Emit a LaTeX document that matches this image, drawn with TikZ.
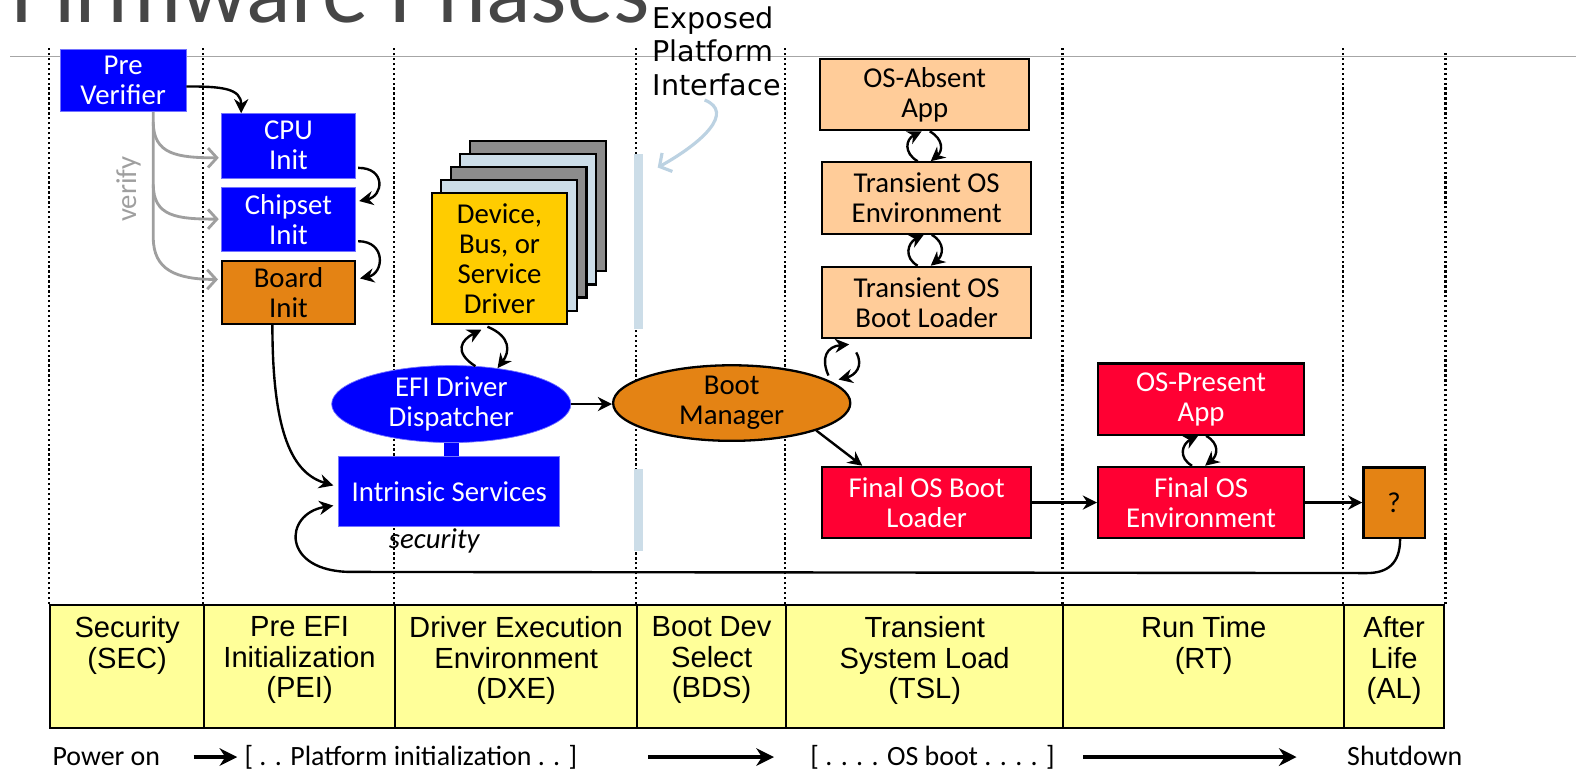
\documentclass[tikz,border=0pt]{standalone}
\usepackage{fontspec}
\setmainfont{Carlito}
\newfontfamily\arialfont{Liberation Sans}
\newfontfamily\epifont{DejaVu Sans}
\usetikzlibrary{shapes,arrows.meta,positioning,calc}

\definecolor{efiblue}{RGB}{0,0,255}
\definecolor{efiorange}{RGB}{228,131,20}
\definecolor{efipeach}{RGB}{255,204,153}
\definecolor{efired}{RGB}{255,0,51}
\definecolor{drvyellow}{RGB}{255,204,0}
\definecolor{paleblue}{RGB}{204,221,232}
\definecolor{epiline}{RGB}{188,210,226}
\definecolor{layergray}{RGB}{140,140,140}
\definecolor{bandyellow}{RGB}{255,255,153}
\definecolor{titlegray}{RGB}{70,70,70}

\newcommand{\pu}{0.02cm}
\newcommand{\boxfont}{\fontsize{16.3}{17}\selectfont}
\newcommand{\bandfont}{\arialfont\fontsize{16.5}{17.3}\selectfont}
\newcommand{\rowfont}{\fontsize{15.8}{17}\selectfont}

\begin{document}
\begin{tikzpicture}[
			x=\pu, y=-\pu,
			blubox/.style={rectangle, fill=efiblue, draw=efiblue!55, line width=0.4pt, text=white, font=\boxfont, align=center, inner sep=0pt},
			orgbox/.style={rectangle, fill=efiorange, draw=black, line width=1.3pt, font=\boxfont, align=center, inner sep=0pt},
			tslbox/.style={rectangle, fill=efipeach, draw=black, line width=1.3pt, font=\boxfont, align=center, inner sep=0pt, minimum width=208*\pu, minimum height=71*\pu},
			rtbox/.style={rectangle, fill=efired, draw=black, line width=1.3pt, text=white, font=\boxfont, align=center, inner sep=0pt, minimum width=207*\pu, minimum height=71*\pu},
			drvlayer/.style={rectangle, draw=black, line width=1.2pt, minimum width=135*\pu, minimum height=130*\pu},
			cell/.style={rectangle, draw=black, fill=bandyellow, line width=1.2pt, minimum height=122*\pu},
			celltext/.style={anchor=north, align=center, font=\bandfont, inner sep=0pt, yshift=-0.24cm},
			phase/.style={line width=1.3pt, dash pattern=on 1.3pt off 1.5pt},
			arr/.style={-{Stealth[length=8pt,width=8pt]}, line width=1.35pt},
			varr/.style={draw=gray!75, line width=1.6pt, -{Straight Barb[length=5pt,width=11pt]}},
			epiarr/.style={draw=epiline, line width=1.8pt, -{Straight Barb[length=5pt,width=12pt]}},
			bigarr/.style={-{Stealth[length=10pt,width=10pt]}, line width=2.6pt},
			rowtext/.style={font=\rowfont, inner sep=0pt, anchor=base west}
		]
		\useasboundingbox (0,0) rectangle (1568,769);

		% title and rule
		\node[anchor=base west, inner sep=0pt, text=titlegray, font=\fontsize{52.6}{56}\selectfont] (title) at (11,22) {Firmware Phases};
		\draw[gray!70, line width=0.6pt] (10,56) -- (1568,56);

		% phase band
		\node[cell, minimum width=153*\pu, label={[celltext]north:Security\\(SEC)}] (sec) at (126.5,663) {};
		\node[cell, minimum width=190*\pu, label={[celltext]north:Pre EFI\\Initialization\\(PEI)}] (pei) at (298,663) {};
		\node[cell, minimum width=241*\pu, label={[celltext]north:Driver Execution\\Environment\\(DXE)}] (dxe) at (513.5,663) {};
		\node[cell, minimum width=148*\pu, label={[celltext]north:Boot Dev\\Select\\(BDS)}] (bds) at (708,663) {};
		\node[cell, minimum width=276*\pu, label={[celltext]north:Transient\\System Load\\(TSL)}] (tsl) at (920,663) {};
		\node[cell, minimum width=279*\pu, label={[celltext]north:Run Time\\(RT)}] (rt) at (1197.5,663) {};
		\node[cell, minimum width=100*\pu, label={[celltext]north:After\\Life\\(AL)}] (al) at (1387,663) {};

		\draw[phase] (sec.north west) -- +(0,-555);
		\draw[phase] (pei.north west) -- +(0,-555);
		\draw[phase] (dxe.north west) -- +(0,-555);
		\draw[phase] (bds.north west) -- +(0,-555);
		\draw[phase] (tsl.north west) -- +(0,-555);
		\draw[phase] (rt.north west) -- +(0,-555);
		\draw[phase] (al.north west) -- +(0,-555);
		\draw[phase] (al.north east) -- +(0,-550);

		% exposed platform interface
		\node[fill=paleblue, inner sep=0pt, minimum width=9*\pu, minimum height=174*\pu] (epibar1) at (635.5,240) {};
		\node[fill=paleblue, inner sep=0pt, minimum width=9*\pu, minimum height=81*\pu] (epibar2) at (635.5,507.5) {};
		\node[anchor=north west, align=left, inner sep=0pt, font=\epifont\fontsize{16.2}{19}\selectfont] (epi) at (649,6) {Exposed\\Platform\\Interface};
		\draw[epiarr] ($(epi.south)+(-12,4)$) .. controls +(30,12) and +(45,-25) .. ($(epibar1.north east)+(14,14)$);

		% SEC and PEI
		\node[blubox, minimum width=125*\pu, minimum height=62*\pu] (pre) at (122.5,80) {Pre\\Verifier};
		\node[blubox, minimum width=134*\pu, minimum height=64*\pu] (cpu) at (287,145) {CPU\\Init};
		\node[blubox, minimum width=134*\pu, minimum height=64*\pu] (chip) at (287,218) {Chipset\\Init};
		\node[orgbox, minimum width=132*\pu, minimum height=62*\pu] (board) at (287,291) {Board\\Init};

		\draw[arr] ($(pre.east)+(0,6)$) .. controls +(35,0) and +(0,-25) .. ($(cpu.north)+(-47,0)$);
		\draw[arr] ($(cpu.east)+(2,22)$) .. controls +(28,0) and +(24,-5) .. ($(chip.east)+(3,-18)$);
		\draw[arr] ($(chip.east)+(2,22)$) .. controls +(28,0) and +(24,-5) .. ($(board.east)+(4,-14)$);

		\draw[varr] ($(pre.south)+(30,0)$) -- ($(pre.south)+(30,125)$) .. controls +(0,32) and +(-42,0) .. ($(board.west)+(-3,-13)$);
		\draw[varr] ($(pre.south)+(30,10)$) .. controls +(0,32) and +(-42,0) .. ($(cpu.west)+(-2,12)$);
		\draw[varr] ($(pre.south)+(30,72)$) .. controls +(0,32) and +(-42,0) .. ($(chip.west)+(-2,0)$);
		\node[rotate=90, text=gray!75, font=\boxfont, inner sep=0pt] (vlabel) at (128,188) {verify};

		% DXE
		\node[drvlayer, fill=layergray] (drv4) at (535,205) {};
		\node[drvlayer, fill=paleblue] (drv3) at (525.5,218) {};
		\node[drvlayer, fill=layergray] (drv2) at (516,231) {};
		\node[drvlayer, fill=paleblue] (drv1) at (506.5,244) {};
		\node[drvlayer, fill=drvyellow, font=\boxfont, align=center, inner sep=0pt] (drv) at (497,257) {Device,\\Bus, or\\Service\\Driver};

		\node[ellipse, fill=efiblue, draw=efiblue!55, text=white, font=\boxfont, align=center, inner sep=0pt, minimum width=238*\pu, minimum height=70*\pu] (disp) at (449,402) {EFI Driver\\Dispatcher};
		\node[blubox, minimum width=220*\pu, minimum height=69*\pu] (intr) at (447,489) {Intrinsic Services};
		\draw[efiblue, line width=15*\pu] (disp.south) -- (disp.south |- intr.north);
		\node[font=\boxfont\itshape, inner sep=0pt] (secu) at (432,538) {security};

		\draw[arr] ($(disp.north)+(24,1)$) .. controls +(-22,-14) and +(-20,10) .. ($(drv.south)+(-18,5)$);
		\draw[arr] ($(drv.south)+(-12,2)$) .. controls +(24,10) and +(12,-16) .. ($(disp.north)+(46,3)$);

		\draw[arr] ($(board.south)+(-16,0)$) .. controls +(0,110) and +(-40,-12) .. ($(intr.west)+(-5,-6)$);

		% BDS
		\node[ellipse, fill=efiorange, draw=black, line width=1.3pt, font=\boxfont, align=center, inner sep=0pt, minimum width=236*\pu, minimum height=65*\pu] (bm) at (728,401) {Boot\\Manager};
		\draw[arr] (disp.east) -- (disp.east -| bm.west);

		% TSL
		\node[tslbox] (osabs) at (920,94) {OS-Absent\\App};
		\node[tslbox] (tenv) at (922,197) {Transient OS\\Environment};
		\node[tslbox] (tbl) at (922,301) {Transient OS\\Boot Loader};
		\node[rtbox, minimum width=208*\pu] (fobl) at (922,500) {Final OS Boot\\Loader};

		\draw[arr] ($(tenv.north)+(-9,0)$) .. controls +(-14,-8) and +(-16,8) .. ($(osabs.south)+(-3,0)$);
		\draw[arr] ($(osabs.south)+(5,0)$) .. controls +(14,8) and +(12,-10) .. ($(tenv.north)+(4,0)$);
		\draw[arr] ($(tbl.north)+(-9,0)$) .. controls +(-14,-8) and +(-16,8) .. ($(tenv.south)+(-3,0)$);
		\draw[arr] ($(tenv.south)+(5,0)$) .. controls +(14,8) and +(12,-10) .. ($(tbl.north)+(4,0)$);

		\draw[arr] ($(bm.north east)+(12,0)$) .. controls +(-8,-18) and +(-22,2) .. ($(tbl.south west)+(28,5)$);
		\draw[arr] ($(tbl.south west)+(35,13)$) .. controls +(8,14) and +(16,-4) .. ($(bm.north east)+(22,4)$);
		\draw[arr] (bm.south east) -- ($(fobl.north west)+(41,0)$);

		% RT and AL
		\node[rtbox, minimum width=205*\pu] (osp) at (1195,397) {OS-Present\\App};
		\node[rtbox, minimum width=205*\pu] (foenv) at (1195,500) {Final OS\\Environment};
		\node[orgbox, minimum width=61*\pu, minimum height=70*\pu] (q) at (1387,500) {?};

		\draw[arr] ($(foenv.north)+(-9,0)$) .. controls +(-14,-8) and +(-16,8) .. ($(osp.south)+(-3,0)$);
		\draw[arr] ($(osp.south)+(5,0)$) .. controls +(14,8) and +(12,-10) .. ($(foenv.north)+(4,0)$);

		\draw[arr] (fobl.east) -- (foenv.west);
		\draw[arr] (foenv.east) -- (q.west);
		\draw[arr] ($(q.south)+(6,0)$) .. controls +(0,25) and +(20,0) .. ($(q.south)+(-27,34)$) -- ($(intr.west)+(13,80)$) .. controls +(-70,0) and +(-50,8) .. ($(intr.west)+(-5,14)$);

		% time line
		\node[rowtext] (pwr) at (52,762) {Power on};
		\node[rowtext] (pinit) at (243,762) {[ . . Platform initialization . . ]};
		\node[rowtext] (osboot) at (806,762) {[ . . . . OS boot . . . . ]};
		\node[rowtext] (sdown) at (1340,762) {Shutdown};

		\draw[bigarr, line width=2pt] ($(pwr.east)+(33,0)$) -- ($(pinit.west |- pwr.east)+(-7,0)$);
		\draw[bigarr] ($(pinit.east |- pwr.east)+(70,0)$) -- ($(osboot.west |- pwr.east)+(-36,0)$);
		\draw[bigarr] ($(osboot.east |- pwr.east)+(28,0)$) -- ($(sdown.west |- pwr.east)+(-50,0)$);
	\end{tikzpicture}
\end{document}
